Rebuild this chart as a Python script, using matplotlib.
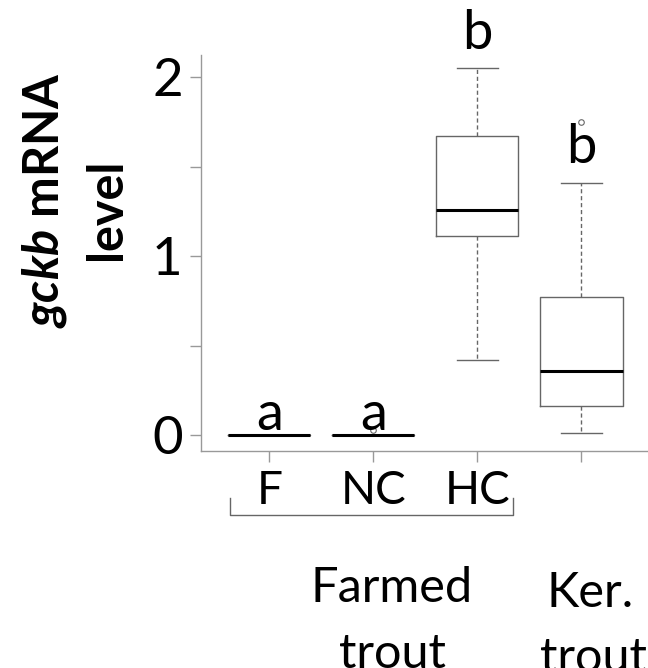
import matplotlib
matplotlib.use('Agg')
import matplotlib.pyplot as plt

plt.rcParams['font.family'] = ['Lato', 'DejaVu Sans']
plt.rcParams['mathtext.fontset'] = 'custom'
plt.rcParams['mathtext.bfit'] = 'Lato:italic:bold'
plt.rcParams['mathtext.bf'] = 'Lato:bold'

# box summaries per group (gckb relative mRNA level)
groups = ['F', 'NC', 'HC', '']
whislo = [0.0, 0.0, 0.42, 0.01]
q1 = [0.0, 0.0, 1.11, 0.16]
med = [0.0, 0.0, 1.26, 0.36]
q3 = [0.0, 0.0, 1.67, 0.77]
whishi = [0.0, 0.0, 2.05, 1.41]
fliers = [[], [0.03], [], [1.75]]
letters = ['a', 'a', 'b', 'b']
letter_y = [0.03, 0.03, 2.16, 1.52]

stats = []
for i in range(len(groups)):
    stats.append(dict(whislo=whislo[i], q1=q1[i], med=med[i], q3=q3[i],
                      whishi=whishi[i], fliers=fliers[i]))

grey = '#666666'
fig = plt.figure(figsize=(6.48, 6.68), dpi=100)
ax = fig.add_axes([0.3097, 0.3253, 0.6903, 0.5924])

ax.bxp(stats, positions=[1, 2, 3, 4], widths=0.79, showfliers=True,
       boxprops=dict(color=grey, linewidth=1.0),
       whiskerprops=dict(color=grey, linewidth=1.0, linestyle=(0, (3, 2))),
       capprops=dict(color=grey, linewidth=1.0),
       capwidths=0.39,
       medianprops=dict(color='black', linewidth=2.2),
       flierprops=dict(marker='o', markersize=4, markerfacecolor='none',
                       markeredgecolor=grey, markeredgewidth=0.8))

for x, (lab, y) in enumerate(zip(letters, letter_y), start=1):
    ax.text(x, y, lab, ha='center', va='baseline', fontsize=39)

ax.set_xlim(0.34, 4.64)
ax.set_ylim(-0.088, 2.124)
ax.set_yticks([0, 1, 2])
ax.set_yticks([0.5, 1.5], minor=True)
ax.set_xticks([1, 2, 3, 4])
ax.set_xticklabels(groups)
ax.tick_params(axis='y', which='both', length=8, width=1, color='#999999',
               labelsize=38, pad=5)
ax.tick_params(axis='x', length=8, width=1, color='#999999',
               labelsize=33, pad=6)
for side in ['top', 'right']:
    ax.spines[side].set_visible(False)
for side in ['left', 'bottom']:
    ax.spines[side].set_color('#999999')
    ax.spines[side].set_linewidth(1.0)

# y label, two lines
fig.text(0.069, 0.70, r'$\mathbfit{gckb}$ mRNA', rotation=90, ha='center',
         va='center', fontsize=35, fontweight='bold')
fig.text(0.165, 0.687, 'level', rotation=90, ha='center', va='center',
         fontsize=35, fontweight='bold')

# bracket under the farmed groups
bx0, bx1 = 230 / 648, 512.7 / 648
by0, by1 = 1 - 498 / 668, 1 - 515 / 668
fig.add_artist(plt.Line2D([bx0, bx0, bx1, bx1], [by0, by1, by1, by0],
                          transform=fig.transFigure, color=grey, linewidth=1.0))

# group captions below the bracket
captions = [('Farmed', 392, 602), ('trout', 392, 668),
            ('Ker.', 590, 607), ('trout', 593, 672)]
for txt, cx, cy in captions:
    fig.text(cx / 648, 1 - cy / 668, txt, ha='center', va='baseline',
             fontsize=35)

fig.savefig('out.png', dpi=100)
